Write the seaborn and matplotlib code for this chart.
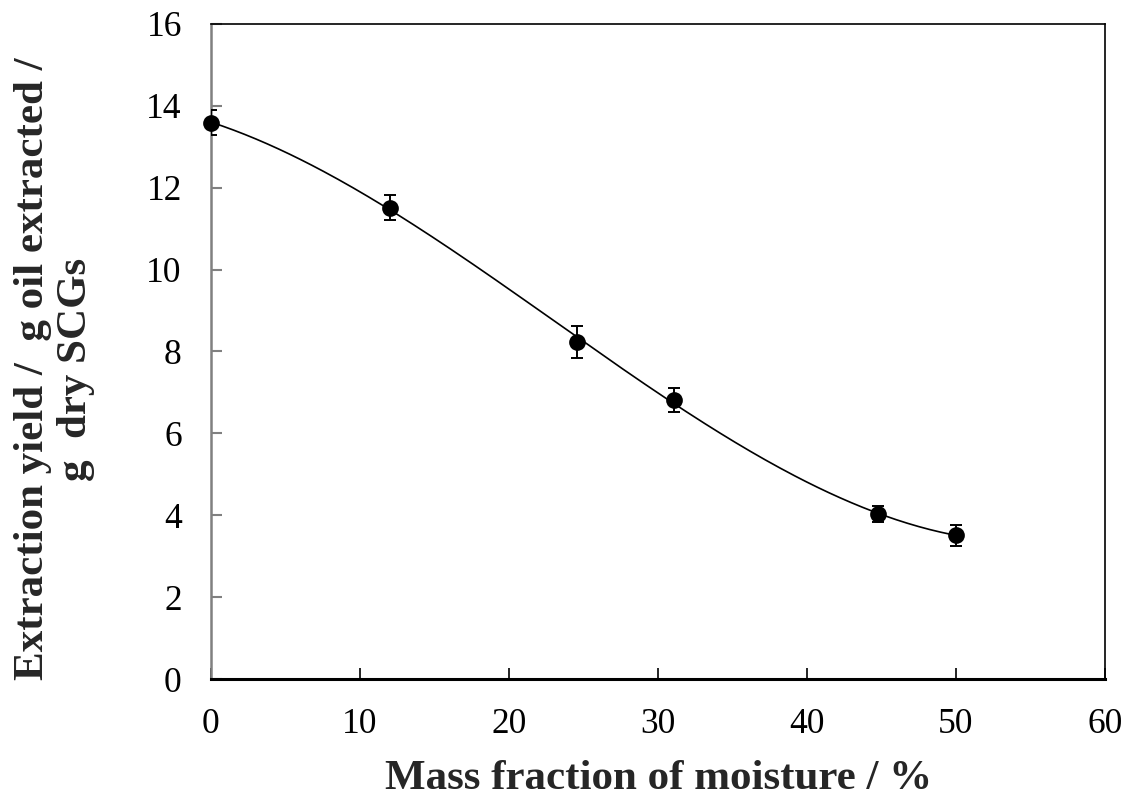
import numpy as np
import pandas as pd
import seaborn as sns
import matplotlib
matplotlib.use("Agg")
import matplotlib.pyplot as plt

# Data
moisture = [0.0, 12.0, 24.6, 31.1, 44.8, 50.0]
yield_vals = [13.59, 11.51, 8.23, 6.81, 4.03, 3.51]
yield_err = [0.30, 0.30, 0.40, 0.30, 0.20, 0.25]
x_ticks = [0, 10, 20, 30, 40, 50, 60]
y_ticks = [0, 2, 4, 6, 8, 10, 12, 14, 16]

df = pd.DataFrame({"moisture": moisture, "yield": yield_vals, "err": yield_err})

# Smooth trend curve: cubic polynomial fitted to the data
coef = np.polyfit(df["moisture"], df["yield"], 3)
xs = np.linspace(min(moisture), max(moisture), 200)
curve = pd.DataFrame({"moisture": xs, "yield": np.polyval(coef, xs)})

sns.set_style("ticks")
plt.rcParams["font.family"] = ["Liberation Serif", "DejaVu Serif"]

fig = plt.figure(figsize=(11.28, 7.97), dpi=100)
ax = fig.add_axes([0.187, 0.148, 0.7926, 0.822])

sns.lineplot(data=curve, x="moisture", y="yield", ax=ax, color="black",
             linewidth=1.2, zorder=2)
ax.errorbar(df["moisture"], df["yield"], yerr=df["err"], fmt="none",
            ecolor="black", elinewidth=1.4, capsize=4.2, capthick=1.4, zorder=3)
sns.scatterplot(data=df, x="moisture", y="yield", ax=ax, color="black",
                s=145, edgecolor="black", linewidth=0, zorder=4, clip_on=False)

ax.set_xlim(0, 60)
ax.set_ylim(0, 16)
ax.set_xticks(x_ticks)
ax.set_yticks(y_ticks)
ax.tick_params(axis="both", labelsize=25.5, direction="in", length=8)
ax.tick_params(axis="x", colors="black", width=1.2, pad=21)
ax.tick_params(axis="y", color="#808080", width=1.5, labelcolor="black", pad=21)

ax.spines["left"].set_color("#808080")
ax.spines["left"].set_linewidth(1.8)
ax.spines["bottom"].set_color("black")
ax.spines["bottom"].set_linewidth(2.2)
for s in ["top", "right"]:
    ax.spines[s].set_color("black")
    ax.spines[s].set_linewidth(1.2)

ax.set_xlabel("")
ax.set_ylabel("")
fig.text(0.5834, 0.0095, "Mass fraction of moisture / %", ha="center",
         va="baseline", fontsize=31, fontweight="bold")
fig.text(0.0485, 0.537, "Extraction yield /  g oil extracted /\ng  dry SCGs",
         rotation=90, ha="center", va="center", multialignment="center",
         fontsize=31, fontweight="bold", linespacing=1.17)

fig.savefig("out.png", dpi=100)
